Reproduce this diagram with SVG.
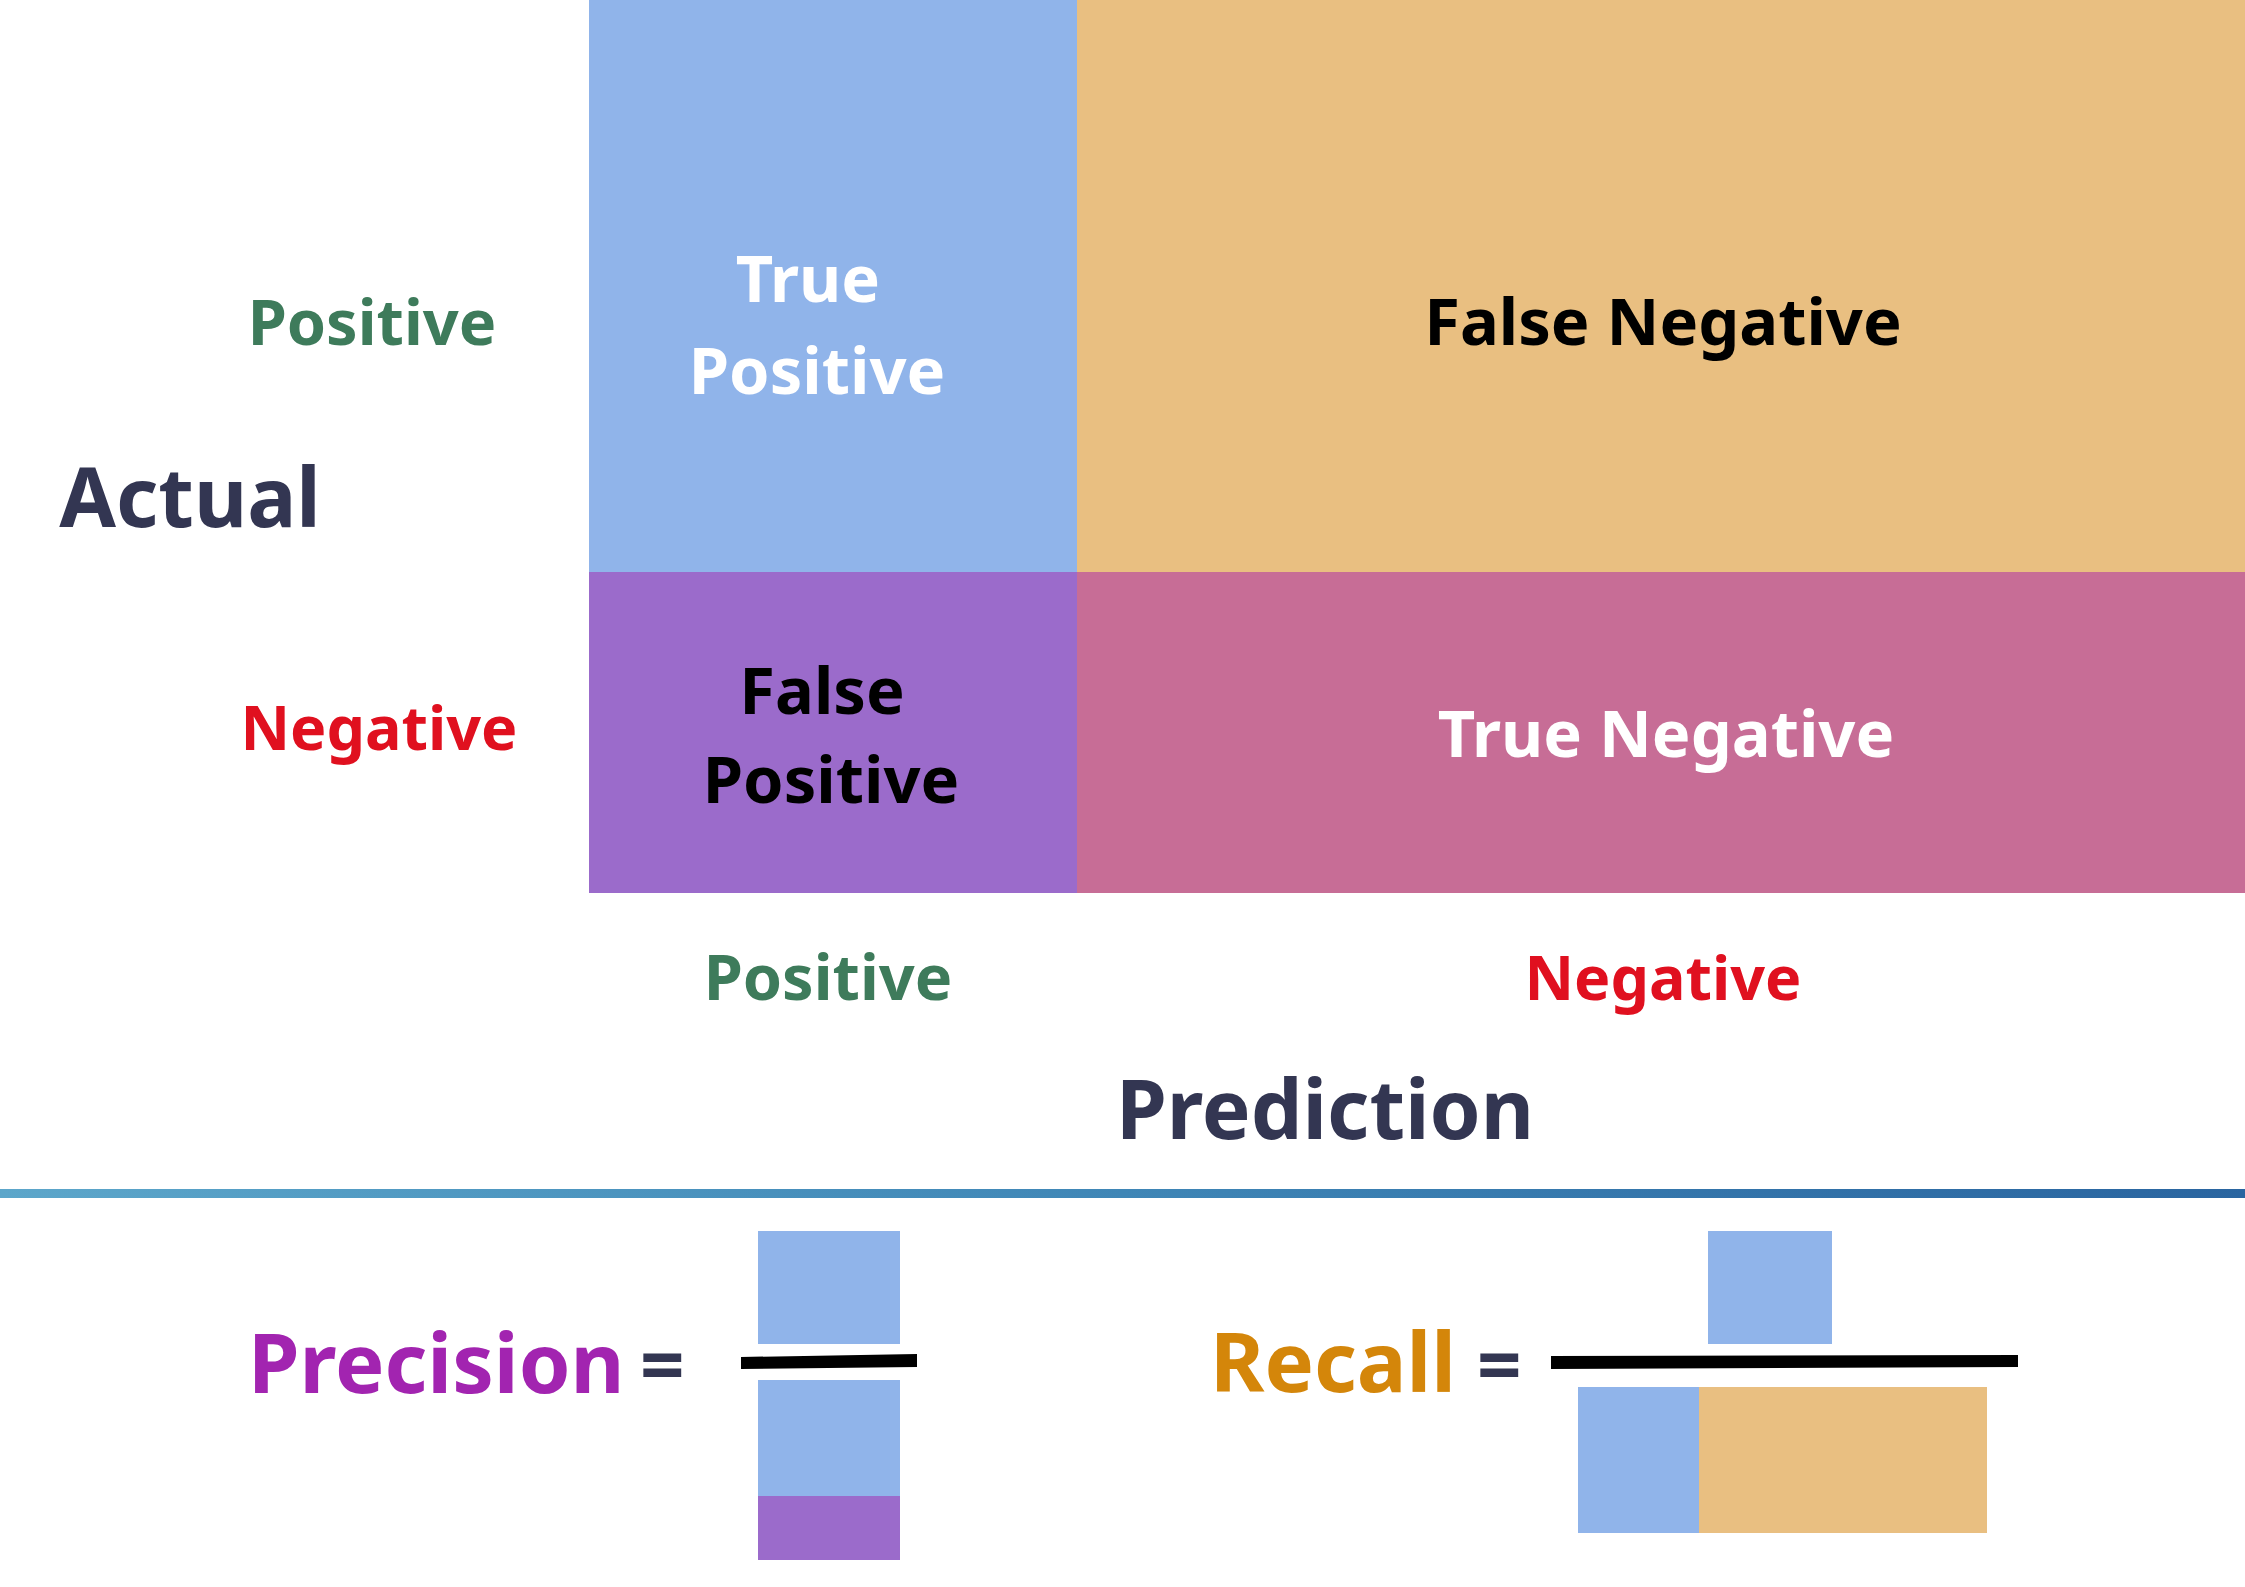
<svg xmlns="http://www.w3.org/2000/svg" width="2245" height="1587" viewBox="0 0 2245 1587">
  <defs>
    <linearGradient id="sep" x1="0" y1="0" x2="1" y2="0">
      <stop offset="0" stop-color="#5ca6ca"/>
      <stop offset="0.5" stop-color="#3f86b6"/>
      <stop offset="1" stop-color="#2a65a0"/>
    </linearGradient>
    <style>
      text { font-family: "Noto Sans", "Open Sans", "Liberation Sans", sans-serif; font-weight: 700; }
      .mid { text-anchor: middle; }
      .lbl { font-size: 63px; }
      .neg { font-size: 61px; }
      .cell { font-size: 65px; }
      .axis { font-size: 82px; fill: #333652; }
      .formula { font-size: 83px; }
      .eqs { font-size: 78px; }
      .green { fill: #3e7b5b; }
      .red { fill: #e0101f; }
      .white { fill: #ffffff; }
      .black { fill: #000000; }
      .tp { fill: #90b4ea; }
      .fn { fill: #e9bf81; }
      .fp { fill: #9b6bcb; }
      .tn { fill: #c76d96; }
      .eq { fill: #333652; }
    </style>
  </defs>
  <rect width="2245" height="1587" fill="#ffffff"/>

  <g id="cell-tp">
    <rect class="tp" x="589" y="0" width="488" height="572"/>
    <text class="cell white mid" x="808" y="302">True</text>
    <text class="cell white mid" x="817" y="394">Positive</text>
  </g>
  <g id="cell-fn">
    <rect class="fn" x="1077" y="0" width="1168" height="572"/>
    <text class="cell black mid" x="1663" y="345">False Negative</text>
  </g>
  <g id="cell-fp">
    <rect class="fp" x="589" y="572" width="488" height="321"/>
    <text class="cell black mid" x="822" y="714">False</text>
    <text class="cell black mid" x="831" y="803">Positive</text>
  </g>
  <g id="cell-tn">
    <rect class="tn" x="1077" y="572" width="1168" height="321"/>
    <text class="cell white mid" x="1666" y="757">True Negative</text>
  </g>

  <g id="actual-labels">
    <text class="lbl green mid" x="372" y="345">Positive</text>
    <text class="axis mid" x="190" y="527">Actual</text>
    <text class="neg red mid" x="379" y="750">Negative</text>
  </g>
  <g id="prediction-labels">
    <text class="lbl green mid" x="828" y="1000">Positive</text>
    <text class="neg red mid" x="1663" y="1000">Negative</text>
    <text class="axis mid" x="1325" y="1139">Prediction</text>
  </g>

  <g id="separator">
    <rect x="0" y="1189" width="2245" height="9" fill="url(#sep)"/>
  </g>

  <g id="precision">
    <text class="formula" x="248" y="1393" fill="#a224b0">Precision</text>
    <text class="eqs eq" x="640" y="1393">=</text>
    <rect class="tp" x="758" y="1231" width="142" height="113"/>
    <polygon points="741,1357 917,1354 917,1367 741,1369" fill="#000000"/>
    <rect class="tp" x="758" y="1380" width="142" height="116"/>
    <rect class="fp" x="758" y="1496" width="142" height="64"/>
  </g>

  <g id="recall">
    <text class="formula" x="1210" y="1392" fill="#d4860a">Recall</text>
    <text class="eqs eq" x="1477" y="1393">=</text>
    <rect class="tp" x="1708" y="1231" width="124" height="113"/>
    <polygon points="1551,1356 2018,1355 2018,1367 1551,1369" fill="#000000"/>
    <rect class="tp" x="1578" y="1387" width="121" height="146"/>
    <rect class="fn" x="1699" y="1387" width="288" height="146"/>
  </g>
</svg>
